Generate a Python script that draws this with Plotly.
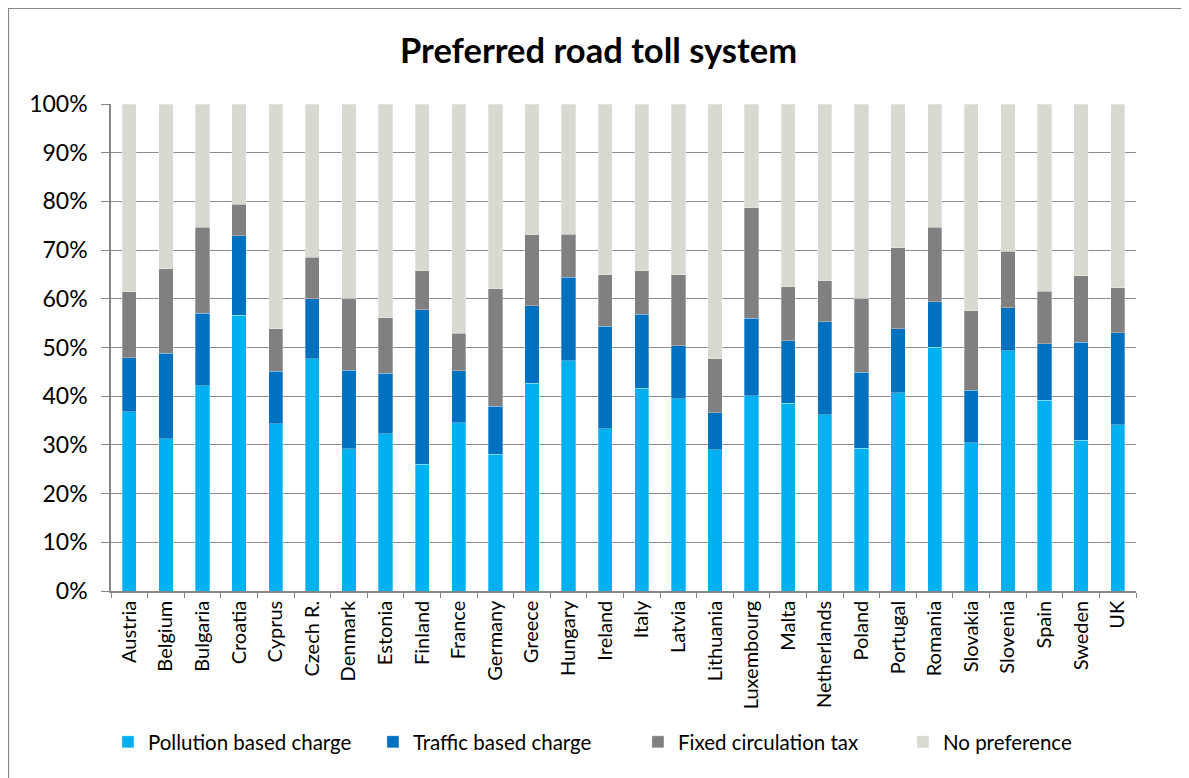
import plotly.graph_objects as go

countries = ["Austria", "Belgium", "Bulgaria", "Croatia", "Cyprus", "Czech R.", "Denmark",
             "Estonia", "Finland", "France", "Germany", "Greece", "Hungary", "Ireland",
             "Italy", "Latvia", "Lithuania", "Luxembourg", "Malta", "Netherlands", "Poland",
             "Portugal", "Romania", "Slovakia", "Slovenia", "Spain", "Sweden", "UK"]

# cumulative tops (%)
cum_pollution = [36.8, 31.3, 42.1, 56.6, 34.3, 47.7, 29.2, 32.3, 26.0, 34.5, 28.1, 42.7, 47.3, 33.3,
                 41.6, 39.5, 29.0, 40.1, 38.6, 36.2, 29.3, 40.7, 50.1, 30.4, 49.3, 39.2, 31.0, 34.1]
cum_traffic = [47.9, 48.8, 57.0, 72.9, 45.1, 60.0, 45.3, 44.7, 57.8, 45.2, 37.9, 58.6, 64.4, 54.4,
               56.8, 50.4, 36.6, 56.0, 51.4, 55.3, 44.9, 53.9, 59.4, 41.2, 58.2, 50.8, 51.1, 53.0]
cum_fixed = [61.4, 66.2, 74.7, 79.4, 53.8, 68.5, 60.1, 56.1, 65.8, 52.9, 62.1, 73.2, 73.3, 64.9,
             65.8, 64.9, 47.7, 78.7, 62.5, 63.7, 60.1, 70.5, 74.7, 57.5, 69.8, 61.6, 64.7, 62.3]

pollution = [p / 100 for p in cum_pollution]
traffic = [(t - p) / 100 for t, p in zip(cum_traffic, cum_pollution)]
fixed = [(f - t) / 100 for f, t in zip(cum_fixed, cum_traffic)]
no_pref = [(100 - f) / 100 for f in cum_fixed]

series = [
    ("Pollution based charge", pollution, "#00B0F0"),
    ("Traffic based charge", traffic, "#0070C0"),
    ("Fixed circulation tax", fixed, "#808080"),
    ("No preference", no_pref, "#D9D9D1"),
]

FONT = "Lato, 'Open Sans', sans-serif"

fig = go.Figure()
for name, vals, color in series:
    fig.add_trace(go.Bar(
        x=countries, y=vals, name=name,
        marker=dict(color=color, line=dict(color="rgba(255,255,255,0.6)", width=0.5)),
    ))

# page has an 8px body margin, so the figure is 8px smaller than the window
W, H = 1181, 770
L, R, T, B = 103, 53, 96, 187
pw, ph = W - L - R, H - T - B

fig.update_layout(
    width=W, height=H,
    barmode="stack", bargap=0.61,
    paper_bgcolor="white", plot_bgcolor="white",
    margin=dict(l=L, r=R, t=T, b=B, autoexpand=False),
    font=dict(family=FONT, color="black"),
    title=dict(text="<b>Preferred road toll system</b>", x=0.5, xanchor="center",
               y=1 - 43 / H, yanchor="middle", font=dict(size=34.5, family=FONT, color="black")),
    xaxis=dict(
        type="category", tickangle=-90, tickfont=dict(size=20, family=FONT),
        showline=True, linecolor="#868686", linewidth=1.5,
        ticks="outside", tickson="boundaries", ticklen=5, tickcolor="#868686",
        showgrid=False,
    ),
    yaxis=dict(
        range=[0, 1], dtick=0.1, tickformat=".0%", tickfont=dict(size=23, family=FONT),
        showgrid=True, gridcolor="#8C8C8C", gridwidth=1,
        showline=True, linecolor="#868686", linewidth=1.5,
        ticks="outside", ticklen=8, tickcolor="#868686", ticklabelstandoff=9,
        zeroline=False,
    ),
    legend=dict(
        orientation="h", x=-0.003, xanchor="left", y=(H - B - 734) / ph, yanchor="middle",
        font=dict(size=20.5, family=FONT), traceorder="normal",
        entrywidth=220, entrywidthmode="pixels", itemwidth=30,
    ),
    shapes=[dict(type="rect", xref="paper", yref="paper",
                 x0=(0.5 - L) / pw, x1=(W + 20 - L) / pw,
                 y0=(H - B - (H + 20)) / ph, y1=(H - B - 0.5) / ph,
                 line=dict(color="#868686", width=1.2), fillcolor="rgba(0,0,0,0)", layer="below")],
)

fig.write_html("out.html")
